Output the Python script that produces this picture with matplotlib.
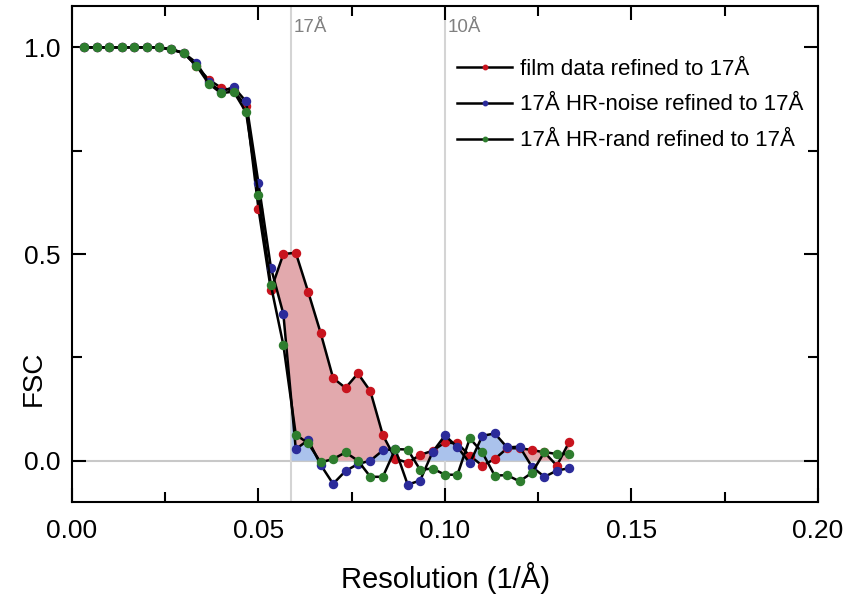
import numpy as np
import matplotlib
matplotlib.use("Agg")
import matplotlib.pyplot as plt
from matplotlib.ticker import MultipleLocator, FormatStrFormatter

plt.rcParams['font.family'] = ['Liberation Sans', 'DejaVu Sans']

# spatial frequency (1/Å)
resolution = np.arange(1, 41) / 300.0

film = [1.0, 1.0, 1.0, 1.0, 1.0, 1.0, 1.0, 0.995, 0.986, 0.955,
        0.922, 0.902, 0.895, 0.858, 0.609, 0.413, 0.500, 0.503, 0.408, 0.309,
        0.200, 0.176, 0.211, 0.168, 0.062, 0.005, -0.005, 0.014, 0.024, 0.044,
        0.042, 0.012, -0.012, 0.004, 0.030, 0.030, 0.026, 0.020, -0.012, 0.046]

hr_noise = [1.0, 1.0, 1.0, 1.0, 1.0, 1.0, 1.0, 0.995, 0.986, 0.963,
            0.915, 0.893, 0.904, 0.869, 0.671, 0.467, 0.355, 0.028, 0.050, -0.010,
            -0.056, -0.025, -0.008, 0.000, 0.025, 0.028, -0.058, -0.048, 0.021, 0.061,
            0.033, -0.006, 0.060, 0.066, 0.032, 0.034, -0.015, -0.039, -0.024, -0.018]

hr_rand = [1.0, 1.0, 1.0, 1.0, 1.0, 1.0, 1.0, 0.995, 0.986, 0.956,
           0.912, 0.889, 0.893, 0.843, 0.642, 0.424, 0.280, 0.063, 0.042, -0.004,
           0.004, 0.020, 0.000, -0.039, -0.039, 0.028, 0.027, -0.022, -0.019, -0.034,
           -0.034, 0.054, 0.020, -0.036, -0.035, -0.050, -0.029, 0.021, 0.016, 0.016]

labels = ["film data refined to 17Å",
          "17Å HR-noise refined to 17Å",
          "17Å HR-rand refined to 17Å"]
marker_colors = ["#c8141e", "#2b2b9a", "#2e7d2e"]
ref_res = [17, 10]

x = np.asarray(resolution)
f = np.asarray(film)
n = np.asarray(hr_noise)

fig = plt.figure(figsize=(8.56, 6.0), dpi=100)
ax = fig.add_axes([0.0841, 0.1633, 0.8715, 0.8267])

# reference lines
ax.axhline(0, color="#c8c8c8", lw=1.5, zorder=0)
for r in ref_res:
    ax.axvline(1.0 / r, color="#d4d4d4", lw=1.5, zorder=0)
    ax.text(1.0 / r + 0.0007, 1.049, f"{r}Å", color="#808080", fontsize=13.5,
            ha="left", va="center")

# shaded areas
xf = np.linspace(x[0], x[-1], 2000)
fi = np.interp(xf, x, f)
ni = np.interp(xf, x, n)
base = np.maximum(ni, 0)
mask_b = xf >= 1.0 / 17
ax.fill_between(xf, 0, base, where=mask_b & (ni > 0), color="#aac2ec", lw=0, zorder=1)
mask_p = xf >= x[15]
ax.fill_between(xf, base, fi, where=mask_p & (fi > base), color="#e2a9ad", lw=0, zorder=1)

handles = []
for y, lab, c in zip([film, hr_noise, hr_rand], labels, marker_colors):
    h, = ax.plot(x, y, "-o", color="black", lw=1.8, ms=5.8, mfc=c, mec=c,
                 label=lab, zorder=3)
    handles.append(h)

ax.set_xlim(0, 0.2)
ax.set_ylim(-0.1, 1.1)
ax.xaxis.set_major_locator(MultipleLocator(0.05))
ax.xaxis.set_minor_locator(MultipleLocator(0.025))
ax.yaxis.set_major_locator(MultipleLocator(0.5))
ax.yaxis.set_minor_locator(MultipleLocator(0.25))
ax.xaxis.set_major_formatter(FormatStrFormatter("%.2f"))
ax.yaxis.set_major_formatter(FormatStrFormatter("%.1f"))
ax.tick_params(which="both", direction="in", top=True, right=True, width=1.5,
               labelsize=19)
ax.tick_params(axis="x", which="both", pad=12)
ax.tick_params(axis="y", which="both", pad=8)
ax.tick_params(which="major", length=10)
ax.tick_params(which="minor", length=7)
for s in ax.spines.values():
    s.set_linewidth(1.5)

ax.set_xlabel("Resolution (1/Å)", fontsize=21, va="center")
ax.xaxis.set_label_coords(0.501, -0.153)
ax.set_ylabel("FSC", fontsize=20, va="center", ha="center")
ax.yaxis.set_label_coords(-0.051, 0.25)

ax.legend(handles=handles, loc="upper left", bbox_to_anchor=(0.516, 0.894),
          frameon=False, fontsize=16, markerscale=0.55, handlelength=2.5,
          handletextpad=0.36, labelspacing=0.67, borderaxespad=0, borderpad=0)

fig.savefig("out.png", dpi=100)
